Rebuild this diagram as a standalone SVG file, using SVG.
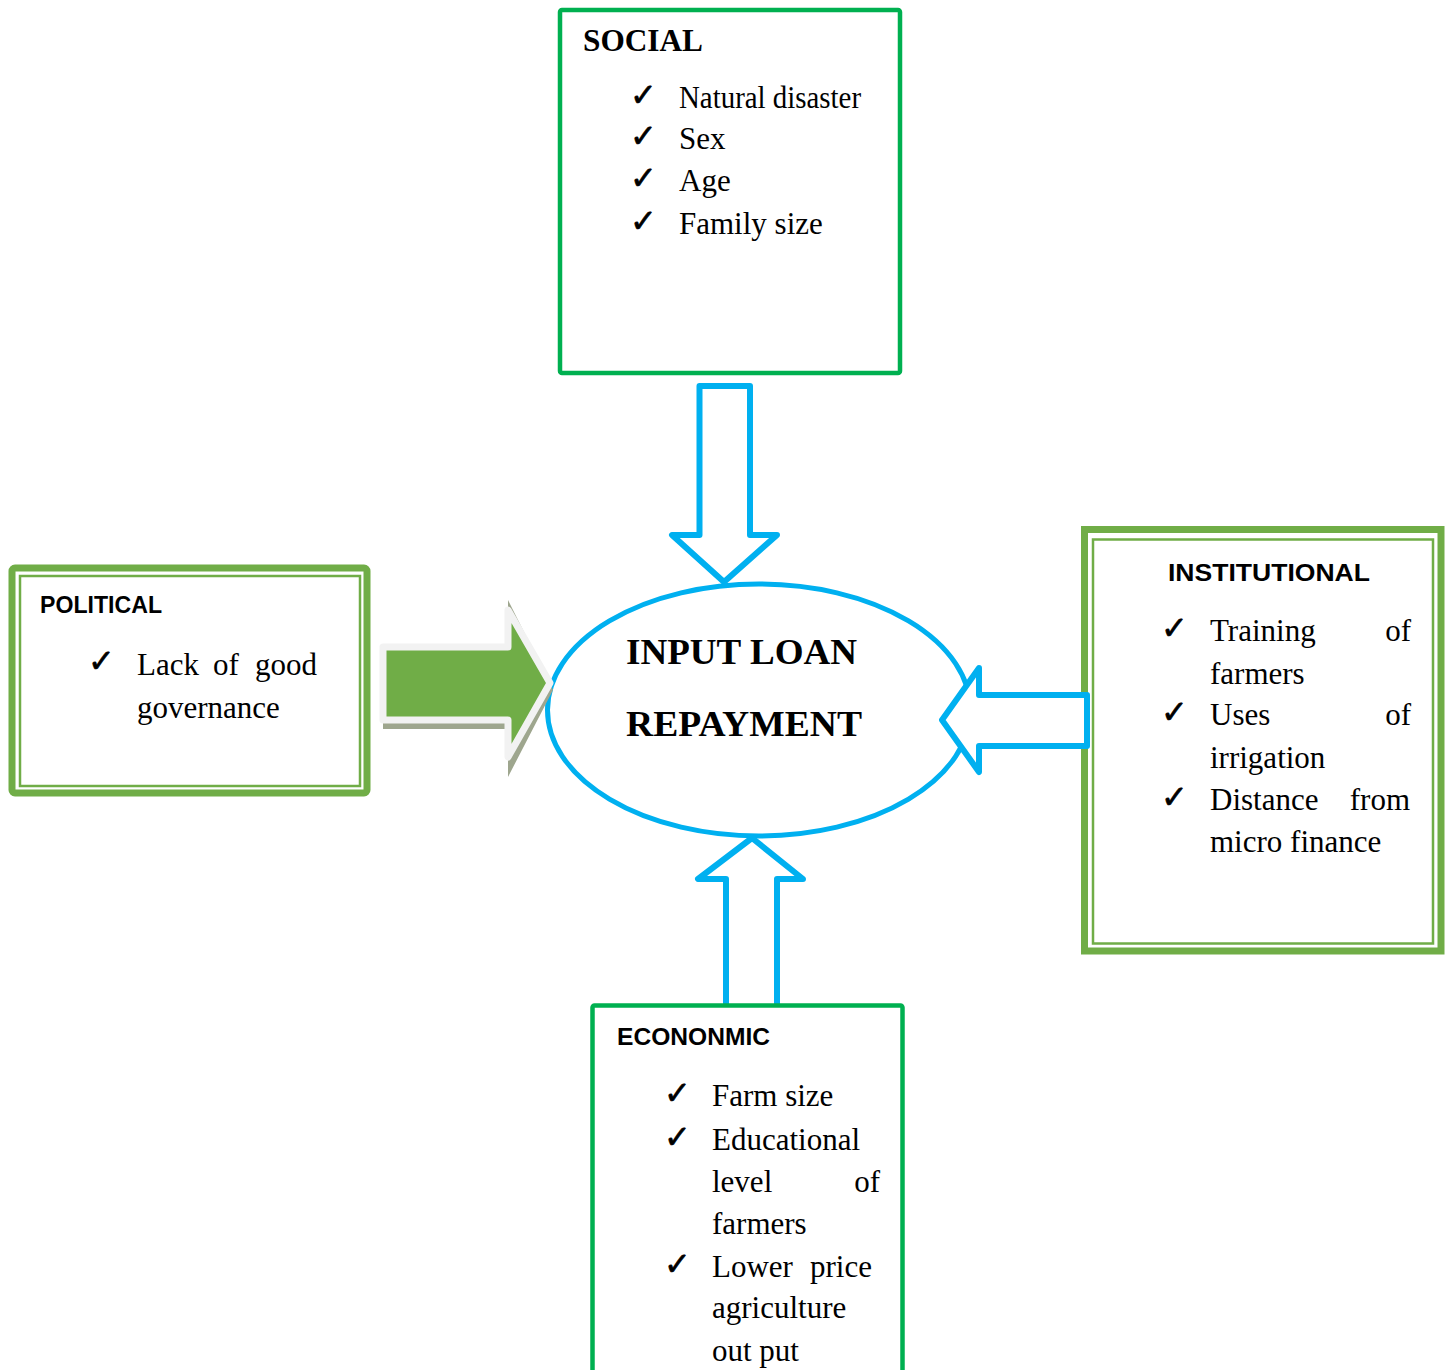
<svg xmlns="http://www.w3.org/2000/svg" width="1448" height="1370" viewBox="0 0 1448 1370">
<style>
.ser{font-family:"Liberation Serif","Times New Roman",serif;font-size:31px;fill:#000}
.hd{font-family:"Liberation Sans",Arial,sans-serif;font-weight:bold;font-size:24px;fill:#000}
.ck{font-family:"DejaVu Sans",sans-serif;font-size:32px;fill:#000;stroke:#000;stroke-width:0.7}
.big{font-family:"Liberation Serif","Times New Roman",serif;font-weight:bold;font-size:36px;fill:#000}
.g1{fill:#fff;stroke:#00B050;stroke-width:4.5}
.g2o{fill:#fff;stroke:#70AD47;stroke-width:7}
.g2i{fill:none;stroke:#70AD47;stroke-width:2.5}
.bl{fill:#fff;stroke:#00B0F0;stroke-width:6;stroke-linejoin:round}
</style>
<rect width="1448" height="1370" fill="#fff"/>

<g id="political">
<rect class="g2o" x="12" y="568" width="355" height="225" rx="3"/>
<rect class="g2i" x="20" y="576" width="340" height="210"/>
<text class="hd" x="40" y="613" textLength="122" lengthAdjust="spacingAndGlyphs">POLITICAL</text>
<text class="ck" x="88" y="672">✓</text>
<text class="ser" x="137" y="675">Lack</text>
<text class="ser" x="213" y="675">of</text>
<text class="ser" x="317" y="675" text-anchor="end">good</text>
<text class="ser" x="137" y="718">governance</text>
</g>

<g id="institutional">
<rect class="g2o" x="1084.5" y="529.5" width="356.5" height="421.5"/>
<rect class="g2i" x="1093" y="539.5" width="340" height="404"/>
<text class="hd" x="1168" y="581" textLength="202" lengthAdjust="spacingAndGlyphs">INSTITUTIONAL</text>
<text class="ck" x="1161" y="639">✓</text>
<text class="ser" x="1210" y="641">Training</text>
<text class="ser" x="1411" y="641" text-anchor="end">of</text>
<text class="ser" x="1210" y="684">farmers</text>
<text class="ck" x="1161" y="723">✓</text>
<text class="ser" x="1210" y="725">Uses</text>
<text class="ser" x="1411" y="725" text-anchor="end">of</text>
<text class="ser" x="1210" y="768">irrigation</text>
<text class="ck" x="1161" y="808">✓</text>
<text class="ser" x="1210" y="810">Distance</text>
<text class="ser" x="1410" y="810" text-anchor="end">from</text>
<text class="ser" x="1210" y="852">micro finance</text>
</g>

<g id="outcome">
<ellipse cx="759" cy="710" rx="211.5" ry="126" fill="#fff" stroke="#00B0F0" stroke-width="5"/>
<text class="big" x="626" y="664" textLength="231" lengthAdjust="spacingAndGlyphs">INPUT LOAN</text>
<text class="big" x="626" y="736" textLength="236" lengthAdjust="spacingAndGlyphs">REPAYMENT</text>
</g>

<g id="connectors">
<polygon points="383,652 508,652 508,600 553,690 508,777 508,729 383,729" fill="#9EA68E"/>
<polygon points="383,647 508,647 508,610 550,683 508,757 508,720 383,720" fill="#70AD47" stroke="#F2F2F2" stroke-width="7" stroke-linejoin="round"/>
<polygon class="bl" points="699.5,386 750,386 750,535 777,535 724,582 672,535 699.5,535"/>
<polygon class="bl" points="726,1009 777,1009 777,879 803,879 752,838 698,879 726,879"/>
<polygon class="bl" points="1087,695 979,695 979,668 942,720 979,772 979,746 1087,746"/>
</g>

<g id="social">
<rect class="g1" x="560" y="10" width="340" height="363" rx="2"/>
<text x="583" y="51" font-family="Liberation Serif,Times New Roman,serif" font-weight="bold" font-size="31" textLength="120" lengthAdjust="spacingAndGlyphs">SOCIAL</text>
<text class="ck" x="630" y="106">✓</text>
<text class="ser" x="679" y="108" textLength="182" lengthAdjust="spacingAndGlyphs">Natural disaster</text>
<text class="ck" x="630" y="147">✓</text>
<text class="ser" x="679" y="149">Sex</text>
<text class="ck" x="630" y="189">✓</text>
<text class="ser" x="679" y="191">Age</text>
<text class="ck" x="630" y="232">✓</text>
<text class="ser" x="679" y="234">Family size</text>
</g>

<g id="economic">
<rect class="g1" x="592.5" y="1005.5" width="310" height="400" rx="2"/>
<text class="hd" x="617" y="1045" textLength="153" lengthAdjust="spacingAndGlyphs">ECONONMIC</text>
<text class="ck" x="664" y="1104">✓</text>
<text class="ser" x="712" y="1106">Farm size</text>
<text class="ck" x="664" y="1148">✓</text>
<text class="ser" x="712" y="1150">Educational</text>
<text class="ser" x="712" y="1192">level</text>
<text class="ser" x="880" y="1192" text-anchor="end">of</text>
<text class="ser" x="712" y="1234">farmers</text>
<text class="ck" x="664" y="1275">✓</text>
<text class="ser" x="712" y="1277">Lower</text>
<text class="ser" x="872" y="1277" text-anchor="end">price</text>
<text class="ser" x="712" y="1318">agriculture</text>
<text class="ser" x="712" y="1361">out put</text>
</g>
</svg>
